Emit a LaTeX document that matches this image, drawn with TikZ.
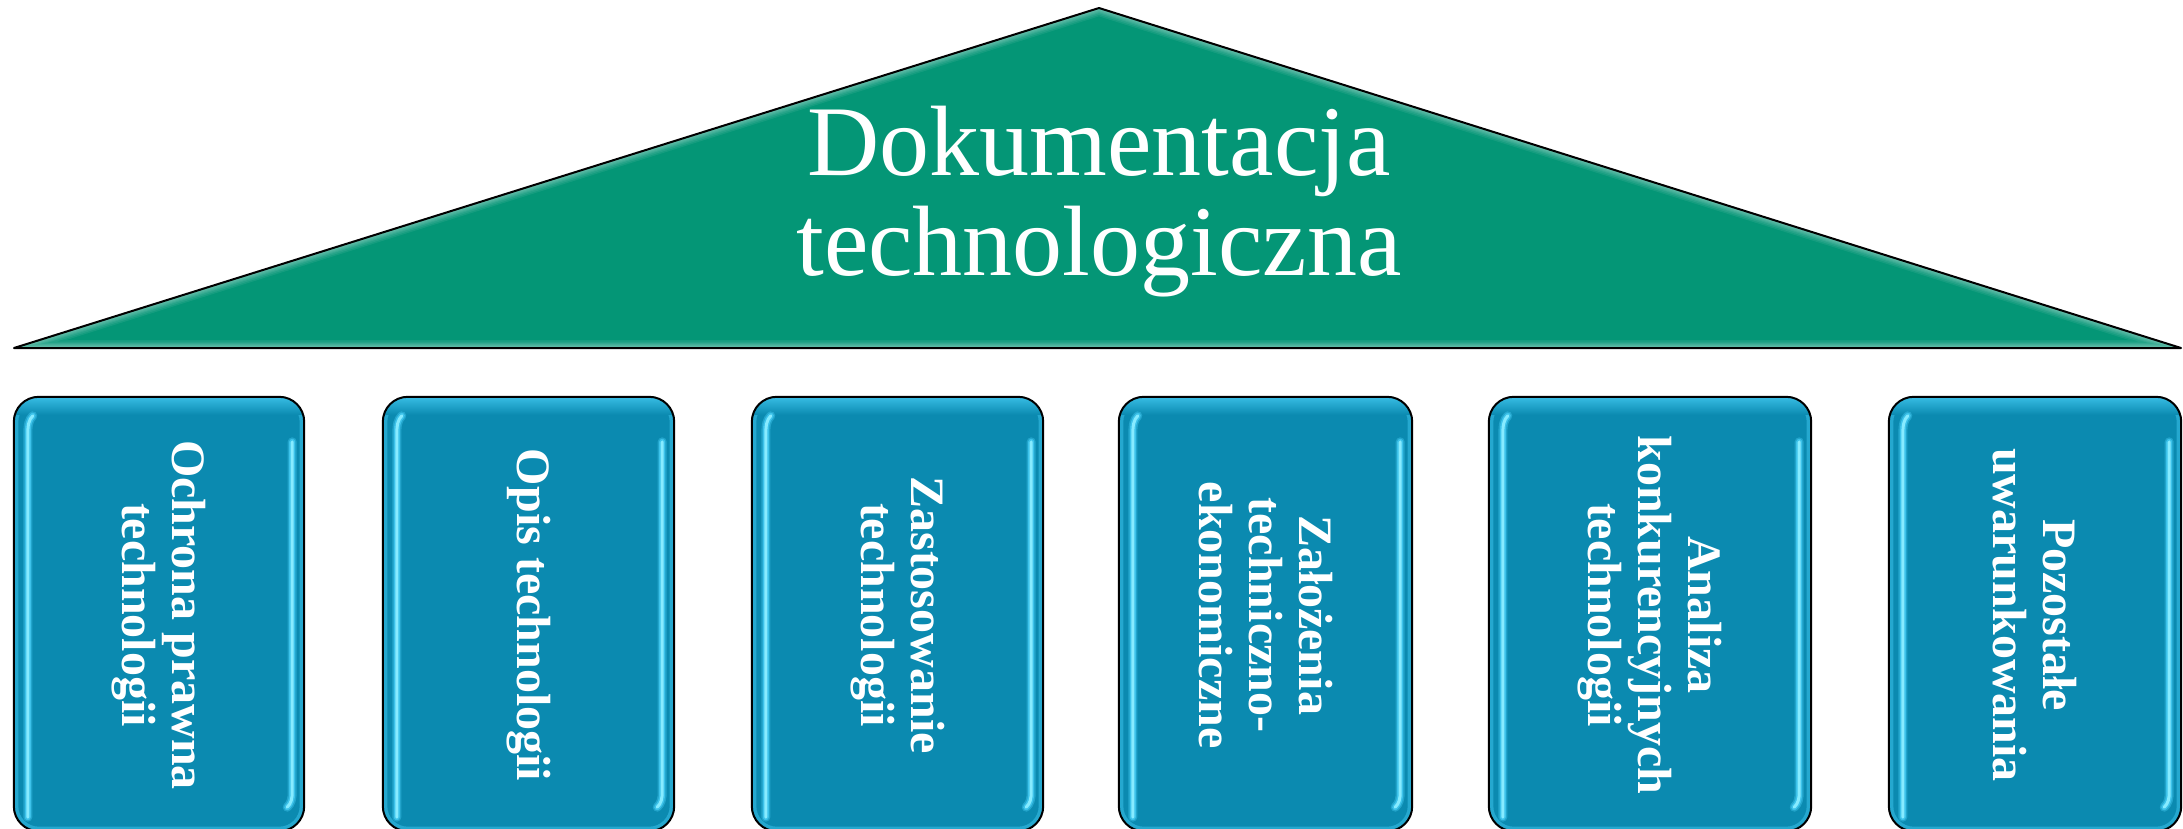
\documentclass[tikz,border=0pt]{standalone}
\usepackage{fontspec}
\setmainfont{Liberation Serif}
\definecolor{roofgreen}{RGB}{4,150,118}
\definecolor{pillarblue}{RGB}{11,138,176}
\definecolor{glosscyan}{RGB}{70,205,245}
\definecolor{glossbright}{RGB}{135,235,255}
\begin{document}
\begin{tikzpicture}[x=1pt,y=-1pt,
  pillar/.style={fill=pillarblue, draw=none, rounded corners=25pt, inner sep=0pt, minimum height=434pt},
  pillarborder/.style={draw=black, line width=2pt, rounded corners=25pt},
  pillartext/.style={text=white, font=\bfseries\fontsize{48}{50}\selectfont, align=center, rotate=-90, inner sep=0pt},
  titletext/.style={text=white, font=\fontsize{100}{100}\selectfont, align=center, inner sep=0pt},
  glossglow/.style={draw=glosscyan, line width=9pt, opacity=0.4, line cap=round},
  glossmid/.style={draw=glosscyan, line width=6pt, opacity=0.75, line cap=round},
  glossline/.style={draw=glossbright, line width=3pt, line cap=round},
  roofline/.style={draw=black, line width=2pt, line join=round}]
\useasboundingbox (0,0) rectangle (2183,829);
\clip (0,0) rectangle (2183,829);
% roof
\coordinate (L) at (14,348);
\coordinate (A) at (1099,8);
\coordinate (R) at (2181,348);
\begin{scope}
  \clip (L) -- (A) -- (R) -- cycle;
  \fill[roofgreen] (L) -- (A) -- (R) -- cycle;
  \foreach \lw in {16,13,10,8,6,4} {
    \draw[white, opacity=0.07, line width=\lw pt, line join=round] (L) -- (A) -- (R) -- cycle;
  }
\end{scope}
\draw[roofline] (L) -- (A) -- (R) -- cycle;
\node[titletext] (title) at (1099,202) {Dokumentacja\\technologiczna};
% pillars
\foreach \n/\xa/\xb/\txt in {
  b1/14/304/{Ochrona prawna\\technologii},
  b2/383/674/{Opis technologii},
  b3/752/1043/{Zastosowanie\\technologii},
  b4/1119/1412/{Założenia\\techniczno-\\ekonomiczne},
  b5/1489/1811/{Analiza\\konkurencyjnych\\technologii},
  b6/1889/2181/{Pozostałe\\uwarunkowania}}{
  \pgfmathsetmacro{\cx}{(\xa+\xb)/2}
  \pgfmathsetmacro{\w}{\xb-\xa}
  \node[pillar, minimum width=\w pt] (\n) at (\cx,614) {};
  \begin{scope}
    \clip[rounded corners=25pt] (\n.north west) rectangle (\n.south east);
    \draw[glosscyan!45!pillarblue, line width=9pt, rounded corners=25pt] (\n.north west) rectangle (\n.south east);
    \shade[top color=glosscyan!80!pillarblue, bottom color=pillarblue] ([shift={(0,-1)}]\n.north west) rectangle ([shift={(0,18)}]\n.north east);
    % highlights
    \foreach \sty in {glossglow,glossmid,glossline} {
      \draw[\sty] ([shift={(19,19)}]\n.north west) .. controls ([shift={(15,23)}]\n.north west) and ([shift={(14,28)}]\n.north west) .. ([shift={(14,38)}]\n.north west) -- ([shift={(14,-14)}]\n.south west);
      \draw[\sty] ([shift={(-12,45)}]\n.north east) -- ([shift={(-12,-40)}]\n.south east) .. controls ([shift={(-12,-32)}]\n.south east) and ([shift={(-13,-28)}]\n.south east) .. ([shift={(-17,-24)}]\n.south east);
    }
  \end{scope}
  \draw[pillarborder] (\n.north west) rectangle (\n.south east);
  \node[pillartext] (\n text) at ([shift={(0,1)}]\n.center) {\txt};
}
\end{tikzpicture}
\end{document}
